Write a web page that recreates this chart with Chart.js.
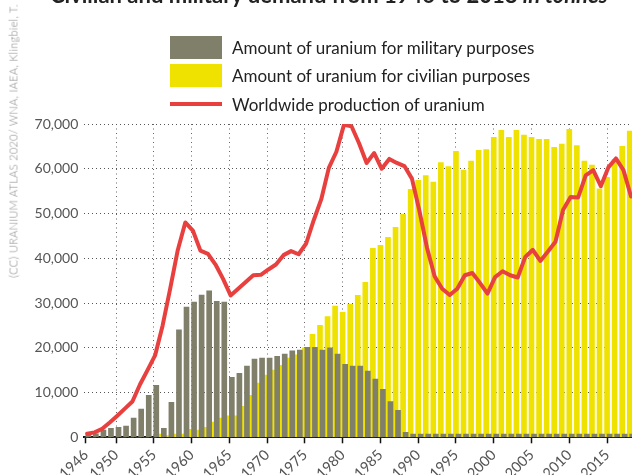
<!DOCTYPE html>
<html>
<head>
<meta charset="utf-8">
<script src="https://cdn.jsdelivr.net/npm/chart.js@4/dist/chart.umd.min.js"></script>
<style>
  html, body { margin: 0; padding: 0; background: #fff; }
  #wrap { position: relative; width: 632px; height: 475px; overflow: hidden; font-family: Lato, sans-serif; color: #222; }
  #chart { position: absolute; left: 0; top: 0; }
  .title { position: absolute; left: 50px; top: -19px; font-size: 22px; font-weight: 700; white-space: nowrap; color: #222; }
  .source { position: absolute; left: 13px; top: 141px; transform: translate(-50%, -50%) rotate(-90deg); font-size: 11px; font-weight: 300; letter-spacing: 0.3px; color: #888; white-space: nowrap; }
  .legend { position: absolute; left: 170px; top: 33px; }
  .legend-row { display: flex; align-items: center; height: 28.5px; font-size: 17px; }
  .swatch { width: 52px; height: 23px; margin-right: 10px; }
  .swatch.line { height: 4px; }
</style>
</head>
<body>
<div id="wrap">
  <canvas id="chart" width="632" height="475"></canvas>
  <div class="title">Civilian and military demand from 1946 to 2018 <i>in tonnes</i></div>
  <div class="source">(CC) URANIUM ATLAS 2020/ WNA, IAEA, Klingbiel, T.</div>
  <div class="legend" id="legend"></div>
</div>
<script>
const years = [
  1946, 1947, 1948, 1949, 1950, 1951, 1952, 1953, 1954, 1955,
  1956, 1957, 1958, 1959, 1960, 1961, 1962, 1963, 1964, 1965,
  1966, 1967, 1968, 1969, 1970, 1971, 1972, 1973, 1974, 1975,
  1976, 1977, 1978, 1979, 1980, 1981, 1982, 1983, 1984, 1985,
  1986, 1987, 1988, 1989, 1990, 1991, 1992, 1993, 1994, 1995,
  1996, 1997, 1998, 1999, 2000, 2001, 2002, 2003, 2004, 2005,
  2006, 2007, 2008, 2009, 2010, 2011, 2012, 2013, 2014, 2015,
  2016, 2017, 2018
]

const military = [
  500, 750, 1600, 2000, 2200, 2500, 4300, 6300, 9400, 11600,
  2000, 7800, 24000, 29100, 30200, 31800, 32700, 30400, 30200, 13400,
  14300, 15900, 17500, 17700, 17700, 18100, 18600, 19300, 19500, 20100,
  20100, 19500, 20000, 18600, 16300, 15900, 15900, 14800, 13000, 10700,
  8000, 6000, 1100, 700, 700, 700, 700, 700, 700, 700,
  700, 700, 700, 700, 700, 700, 700, 700, 700, 700,
  700, 700, 700, 700, 700, 700, 700, 700, 700, 700,
  700, 700, 700
]

const civilian = [
  0, 0, 0, 0, 0, 0, 0, 0, 0, 0,
  700, 400, 700, 700, 1800, 1600, 2200, 3400, 4300, 4800,
  4800, 6900, 9400, 12100, 13900, 15000, 16100, 17700, 18400, 20000,
  23000, 25000, 27000, 29300, 27900, 29700, 31700, 34600, 42200, 42900,
  44700, 46900, 49800, 55400, 57400, 58500, 57000, 61400, 60500, 63900,
  59700, 61700, 64100, 64300, 67000, 68600, 67000, 68600, 67500, 67000,
  66600, 66600, 64800, 65500, 68800, 65200, 61700, 60800, 55500, 58100,
  62100, 65000, 68400
]

const production = [
  800, 1100, 1900, 3300, 4800, 6400, 8000, 11800, 15000, 18300,
  25000, 33200, 41800, 48000, 46200, 41700, 41000, 38600, 35400, 31700,
  33200, 34700, 36200, 36300, 37500, 38600, 40700, 41600, 40900, 43300,
  48500, 53200, 60200, 63800, 69800, 69500, 65700, 61300, 63500, 60000,
  62200, 61300, 60600, 57800, 50500, 42300, 36000, 33200, 31800, 33200,
  36200, 36700, 34500, 32100, 35800, 37100, 36200, 35700, 40300, 41900,
  39400, 41500, 43700, 50800, 53700, 53600, 58500, 59700, 56100, 60300,
  62300, 59700, 53800
]

const tickYears = [1946, 1950, 1955, 1960, 1965, 1970, 1975, 1980, 1985, 1990, 1995, 2000, 2005, 2010, 2015]

const militaryLabel = "Amount of uranium for military purposes"
const civilianLabel = "Amount of uranium for civilian purposes"
const productionLabel = "Worldwide production of uranium"

const greyColor = "#807f69"
const yellowColor = "#efe200"
const redColor = "#e8403e"

// the three series sit slightly apart on the year, so each gets its own hidden axis
const xMin = 1945.8
const xMax = 2018.3
const greyShift = 0.33
const lineShift = 0.17

const points = (values) => years.map((year, i) => ({ x: year, y: values[i] }))

const hiddenAxis = (shift) => ({
  type: "linear",
  display: false,
  offset: false,
  min: xMin - shift,
  max: xMax - shift
})

new Chart(document.getElementById("chart"), {
  type: "bar",
  data: {
    datasets: [
      {
        type: "line",
        label: productionLabel,
        data: points(production),
        xAxisID: "xl",
        borderColor: redColor,
        borderWidth: 4,
        pointRadius: 0,
        tension: 0,
        borderJoinStyle: "round",
        borderCapStyle: "round",
        order: 0
      },
      {
        label: militaryLabel,
        data: points(military),
        xAxisID: "xg",
        backgroundColor: greyColor,
        barThickness: 5,
        grouped: false,
        order: 1
      },
      {
        label: civilianLabel,
        data: points(civilian),
        xAxisID: "x",
        backgroundColor: yellowColor,
        barThickness: 5,
        grouped: false,
        order: 2
      }
    ]
  },
  options: {
    responsive: false,
    animation: false,
    locale: "en-US",
    layout: { padding: { top: 124, left: 0, right: 0, bottom: 0 } },
    plugins: {
      legend: { display: false },
      tooltip: { enabled: false },
      title: { display: false }
    },
    scales: {
      x: {
        type: "linear",
        min: xMin,
        max: xMax,
        offset: false,
        z: 1,
        afterBuildTicks: (scale) => { scale.ticks = tickYears.map(value => ({ value: value })) },
        afterFit: (scale) => { scale.height = 37.7 },
        ticks: {
          autoSkip: false,
          minRotation: 45,
          maxRotation: 45,
          padding: 3,
          color: "#555",
          font: { family: "Lato", size: 14.5 },
          callback: (value) => String(value)
        },
        grid: {
          offset: false,
          color: (ctx) => ctx.tick && ctx.tick.value === 1946 ? "rgba(0,0,0,0)" : "#666",
          lineWidth: 1,
          drawTicks: true,
          tickLength: 6,
          tickColor: "#111",
          tickWidth: 1.5,
          tickBorderDash: []
        },
        border: { display: true, color: "#111", width: 2, dash: [1, 3.5] }
      },
      xg: hiddenAxis(greyShift),
      xl: hiddenAxis(lineShift),
      y: {
        min: 0,
        max: 70000,
        z: 1,
        afterFit: (scale) => { scale.width = 84.3 },
        ticks: {
          stepSize: 10000,
          padding: 6,
          color: "#555",
          font: { family: "Lato", size: 14 }
        },
        grid: {
          color: "#555",
          lineWidth: 1,
          drawTicks: false
        },
        border: { display: false, dash: [1, 3] }
      }
    }
  }
})

const legendItems = [
  { label: militaryLabel, color: greyColor, line: false },
  { label: civilianLabel, color: yellowColor, line: false },
  { label: productionLabel, color: redColor, line: true }
]

document.getElementById("legend").innerHTML = legendItems.map(item =>
  `<div class="legend-row"><span class="swatch${item.line ? " line" : ""}" style="background:${item.color}"></span>${item.label}</div>`
).join("")
</script>
</body>
</html>
